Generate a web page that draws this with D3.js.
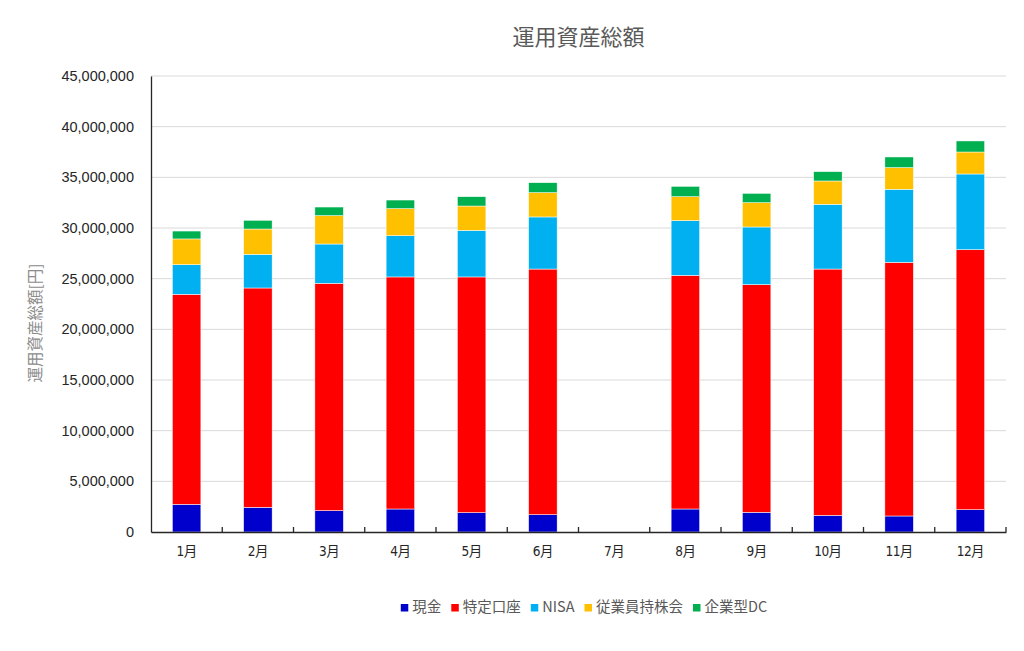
<!DOCTYPE html>
<html><head><meta charset="utf-8">
<script src="https://cdn.jsdelivr.net/npm/d3@7"></script>
<style>body{margin:0;background:#fff;}svg{display:block;}</style>
</head><body>
<svg id="chart" width="1024" height="651"></svg>
<script>
const months = ["1月","2月","3月","4月","5月","6月","7月","8月","9月","10月","11月","12月"];
const seriesNames = ["現金","特定口座","NISA","従業員持株会","企業型DC"];
const seriesColors = ["#0000CC","#FF0000","#00B0F0","#FFC000","#00B050"];
// values in yen (7月 has no data)
const cash     = [2730000,2440000,2110000,2270000,1910000,1710000,null,2270000,1940000,1640000,1580000,2200000];
const tokutei  = [20730000,21640000,22430000,22900000,23260000,24240000,null,23060000,22470000,24310000,25030000,25660000];
const nisa     = [2920000,3320000,3880000,4070000,4600000,5140000,null,5400000,5690000,6390000,7210000,7470000];
const mochikabu= [2540000,2500000,2800000,2670000,2400000,2400000,null,2360000,2400000,2300000,2140000,2170000];
const dc       = [780000,860000,850000,850000,920000,980000,null,1020000,920000,920000,1050000,1090000];
const yTicks = [0,5000000,10000000,15000000,20000000,25000000,30000000,35000000,40000000,45000000];

const seriesData = [cash,tokutei,nisa,mochikabu,dc];
const table = months.map((m,i)=>{
  const o={month:m};
  seriesNames.forEach((s,j)=>o[s]=seriesData[j][i]||0);
  return o;
});
const stacked = d3.stack().keys(seriesNames)(table);

const svg = d3.select("#chart");
const L=151, R=1006, T=76, B=532;
const x = d3.scaleBand().domain(months).range([L,R]).paddingInner(0.6).paddingOuter(0.3);
const xb = d3.scaleBand().domain(months).range([L,R]);
const y = d3.scaleLinear().domain([0,45000000]).range([B,T]);

const font = "'Liberation Sans', Arial, 'Noto Sans CJK JP', sans-serif";

// gridlines
svg.append("g").selectAll("line").data(yTicks.filter(d=>d>0)).join("line")
  .attr("x1",L).attr("x2",R).attr("y1",d=>y(d)).attr("y2",d=>y(d))
  .attr("stroke","#D9D9D9").attr("stroke-width",1);

// bars
svg.append("g").selectAll("g").data(stacked).join("g")
  .attr("fill",(d,i)=>seriesColors[i])
  .selectAll("rect").data(d=>d.filter(p=>p[1]-p[0]>0)).join("rect")
  .attr("x",d=>x(d.data.month)).attr("width",x.bandwidth())
  .attr("y",d=>y(d[1])).attr("height",d=>y(d[0])-y(d[1]))
  .attr("stroke","#fff").attr("stroke-width",0.5);

// y axis
const yAxis = d3.axisLeft(y).tickValues(yTicks).tickSize(0).tickPadding(17)
  .tickFormat(d3.format(","));
const gy = svg.append("g").attr("transform",`translate(${L},0)`).call(yAxis);
gy.select(".domain").attr("stroke","#262626").attr("stroke-width",1.3);
gy.selectAll("text").attr("font-family",font).attr("font-size","14.5px").attr("fill","#262626");

// x axis
const xAxis = d3.axisBottom(x).tickSize(0).tickPadding(14);
const gx = svg.append("g").attr("transform",`translate(0,${B})`).call(xAxis);
gx.select(".domain").attr("stroke","#262626").attr("stroke-width",1.3);
gx.selectAll("text").attr("font-family","'DejaVu Sans Condensed', 'Noto Sans CJK JP', sans-serif")
  .attr("font-size","13.5px").attr("fill","#262626").attr("letter-spacing","-0.5px");
// inside tick marks at category boundaries
svg.append("g").selectAll("line").data(months.slice(1)).join("line")
  .attr("x1",d=>xb(d)).attr("x2",d=>xb(d)).attr("y1",B).attr("y2",B-5)
  .attr("stroke","#262626").attr("stroke-width",1.3);
svg.append("line").attr("x1",R).attr("x2",R).attr("y1",B).attr("y2",B-5)
  .attr("stroke","#262626").attr("stroke-width",1.3);

// title
svg.append("text").attr("x",(L+R)/2).attr("y",45).attr("text-anchor","middle")
  .attr("font-family","'Noto Sans CJK JP', sans-serif").attr("font-size","22px")
  .attr("fill","#595959").text("運用資産総額");

// y axis title
svg.append("text").attr("transform","translate(41,323) rotate(-90)").attr("text-anchor","middle")
  .attr("font-family","'Noto Sans CJK JP', sans-serif").attr("font-size","15.5px")
  .attr("fill","#8C8C8C").text("運用資産総額[円]");

// legend
const lg = svg.append("g");
let cx = 0;
seriesNames.forEach((s,i)=>{
  const g = lg.append("g");
  g.append("rect").attr("x",0).attr("y",-8).attr("width",7.5).attr("height",7.5).attr("fill",seriesColors[i]);
  const t = g.append("text").attr("x",11.5).attr("y",0)
    .attr("font-family","'Noto Sans CJK JP', sans-serif").attr("font-size","14.5px")
    .attr("fill","#595959").text(s);
  const w = 11.5 + t.node().getComputedTextLength();
  g.attr("transform",`translate(${cx},0)`);
  cx += w + 10;
});
const totalW = cx - 10;
lg.attr("transform",`translate(${584 - totalW/2},612)`);
</script>
</body></html>
